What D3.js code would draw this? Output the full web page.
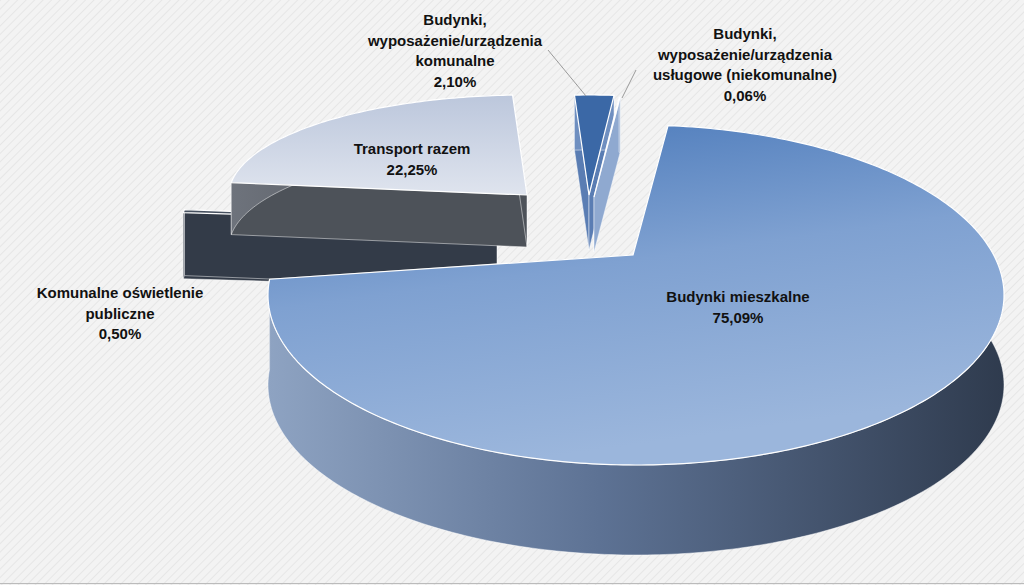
<!DOCTYPE html>
<html><head><meta charset="utf-8">
<script src="https://cdn.jsdelivr.net/npm/d3@7"></script>
<style>body{margin:0;background:#f2f2f2}svg{display:block}</style>
</head><body>
<script>
const categories = ["Budynki mieszkalne","Komunalne oświetlenie publiczne","Transport razem","Budynki, wyposażenie/urządzenia komunalne","Budynki, wyposażenie/urządzenia usługowe (niekomunalne)"];
const values = [75.09, 0.50, 22.25, 2.10, 0.06];
const valueLabels = ["75,09%","0,50%","22,25%","2,10%","0,06%"];

const W=1024,H=585;
const svg=d3.select("body").append("svg").attr("width",W).attr("height",H);
const defs=svg.append("defs");
const pat=defs.append("pattern").attr("id","bg").attr("width",6).attr("height",6).attr("patternUnits","userSpaceOnUse").attr("patternTransform","rotate(45)");
pat.append("rect").attr("width",6).attr("height",6).attr("fill","#f3f3f3");
pat.append("line").attr("x1",0).attr("y1",0).attr("x2",0).attr("y2",6).attr("stroke","#e6e6e6").attr("stroke-width",2);
svg.append("rect").attr("width",W).attr("height",H).attr("fill","url(#bg)");
svg.append("line").attr("x1",0).attr("x2",W).attr("y1",H-1.5).attr("y2",H-1.5).attr("stroke","#bbb");

function lg(id,x1,y1,x2,y2,stops){const g=defs.append("linearGradient").attr("id",id).attr("x1",x1).attr("y1",y1).attr("x2",x2).attr("y2",y2);
 stops.forEach(s=>g.append("stop").attr("offset",s[0]).attr("stop-color",s[1]));}
lg("mainTop",0,0,0.3,1,[[0,"#4676b8"],[0.5,"#7fa1d1"],[1,"#9bb6dc"]]);
lg("mainWall",0,0,1,0,[[0,"#8ea3c2"],[0.45,"#5d7294"],[1,"#2f3b4e"]]);
lg("trTop",0,0,0,1,[[0,"#bcc7dc"],[1,"#dfe4ee"]]);
lg("trWall",0,0,1,0,[[0,"#6e737c"],[1,"#45494f"]]);

// layout per slice: apex (ax,ay), ellipse centre (cx,cy), radii, depth
const layout=[
 {ax:633,ay:255,cx:636,cy:295,rx:368,ry:170,d:90, top:"url(#mainTop)",wall:"url(#mainWall)",side:"#3b4a63"},
 {ax:497,ay:222,cx:497,cy:222,rx:315,ry:100,d:66, top:"#46505f",wall:"#3a4250",side:"#333b48"},
 {ax:527,ay:195,cx:527,cy:195,rx:298,ry:100,d:52, top:"url(#trTop)",wall:"url(#trWall)",side:"#4d5259"},
 {ax:589,ay:195,cx:589,cy:195,rx:300,ry:100,d:55, top:"#3b68a6",wall:"#6f8fc0",side:"#5a7db3"},
 {ax:594,ay:197,cx:594,cy:197,rx:300,ry:100,d:55, top:"#4c7cc0",wall:"#8fa9d0",side:"#8fa9d0"}
];
const start=5*Math.PI/180;
const arcs=d3.pie().sort(null).startAngle(start).endAngle(start+2*Math.PI)(values);

function pt(L,a,dz=0){return [L.cx+L.rx*Math.sin(a), L.cy-L.ry*Math.cos(a)+dz];}
function arcPts(L,a0,a1,dz){const n=Math.max(2,Math.ceil(Math.abs(a1-a0)*60));return d3.range(n+1).map(i=>pt(L,a0+(a1-a0)*i/n,dz));}
const line=d3.line();

const order=[1,2,3,4,0];
order.forEach(i=>{
 const L=layout[i],a=arcs[i],g=svg.append("g");
 [a.startAngle,a.endAngle].forEach(ang=>{
  const p=pt(L,ang);
  g.append("path").attr("d",line([[L.ax,L.ay],p,[p[0],p[1]+L.d],[L.ax,L.ay+L.d]])+"Z")
   .attr("fill",L.side).attr("stroke","#fff").attr("stroke-width",0.8).attr("stroke-opacity",0.6);
 });
 const top=arcPts(L,a.startAngle,a.endAngle,0),bot=arcPts(L,a.startAngle,a.endAngle,L.d).reverse();
 g.append("path").attr("d",line(top.concat(bot))+"Z").attr("fill",L.wall)
  .attr("stroke","#fff").attr("stroke-width",0.8).attr("stroke-opacity",0.6);
 g.append("path").attr("d",line([[L.ax,L.ay]].concat(top))+"Z").attr("fill",L.top)
  .attr("stroke","#fff").attr("stroke-width",1.2);
});

svg.append("path").attr("d","M548,50L586,96").attr("stroke","#9a9a9a").attr("fill","none");
svg.append("path").attr("d","M636,70L622,98").attr("stroke","#9a9a9a").attr("fill","none");

const labels=[
 {x:738,y:302,lines:["Budynki mieszkalne",valueLabels[0]]},
 {x:120,y:298,lines:["Komunalne  oświetlenie","publiczne",valueLabels[1]]},
 {x:412,y:154,lines:["Transport razem",valueLabels[2]]},
 {x:455,y:25,lines:["Budynki,","wyposażenie/urządzenia","komunalne",valueLabels[3]]},
 {x:745,y:39,lines:["Budynki,","wyposażenie/urządzenia","usługowe (niekomunalne)",valueLabels[4]]}
];
labels.forEach(l=>{
 const t=svg.append("text").attr("text-anchor","middle").attr("font-family","Liberation Sans, Arial, sans-serif")
  .attr("font-weight","bold").attr("font-size",15).attr("fill","#111");
 l.lines.forEach((s,j)=>t.append("tspan").attr("x",l.x).attr("y",l.y+j*20.5).text(s));
});
</script>
</body></html>
